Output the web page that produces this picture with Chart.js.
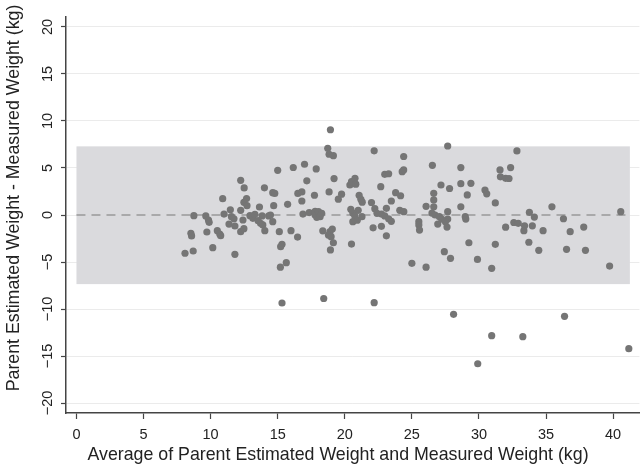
<!DOCTYPE html>
<html>
<head>
<meta charset="utf-8">
<script src="https://cdn.jsdelivr.net/npm/chart.js@4.4.1/dist/chart.umd.min.js"></script>
<style>
  html, body { margin: 0; padding: 0; background: #fff; }
  #wrap { width: 643px; height: 465px; }
</style>
</head>
<body>
<div id="wrap"><canvas id="chart" width="643" height="465"></canvas></div>
<script>
// Average of parent estimate and measured weight (kg)
const avgWeight = [
  8.09, 8.7, 8.53, 8.58, 8.75, 9.64, 9.84, 9.89, 9.72, 10.16,
  10.5, 10.68, 10.75, 10.9, 11.0, 11.47, 11.55, 11.74, 11.37, 11.81,
  11.81, 12.24, 12.5, 12.68, 12.48, 12.71, 12.24, 12.41, 12.24, 12.48,
  12.93, 13.15, 13.3, 13.64, 13.72, 13.89, 13.84, 14.01, 14.04, 13.54,
  14.33, 14.46, 14.63, 14.78, 14.7, 14.63, 15.0, 15.12, 15.32, 15.22,
  15.2, 15.64, 15.32, 15.74, 15.99, 16.16, 16.5, 16.8, 16.8, 16.48,
  16.88, 17.0, 17.17, 17.35, 17.74, 17.79, 17.79, 17.87, 17.91, 18.04,
  18.16, 18.28, 18.36, 18.43, 18.73, 18.83, 18.83, 18.9, 18.78, 18.98,
  18.93, 18.93, 19.15, 19.2, 19.07, 19.15, 19.52, 19.76, 20.38, 20.5,
  20.76, 20.82, 20.45, 21.0, 20.6, 20.75, 21.28, 20.6, 20.93, 20.5,
  21.07, 21.2, 21.3, 21.99, 22.19, 22.24, 22.4, 22.73, 22.68, 22.98,
  22.11, 22.73, 22.19, 22.98, 23.27, 23.1, 23.27, 23.47, 23.47, 23.1,
  23.79, 24.16, 24.28, 24.39, 24.39, 24.1, 24.4, 25.0, 25.52, 25.52,
  25.57, 26.06, 26.06, 26.53, 26.63, 26.63, 26.63, 26.5, 26.73, 26.93,
  27.05, 27.17, 27.22, 27.67, 27.67, 27.5, 27.62, 27.81, 27.67, 27.42,
  27.88, 28.11, 28.65, 28.65, 28.65, 28.98, 29.02, 29.4, 29.13, 29.25,
  29.89, 29.91, 30.45, 30.58, 30.95, 30.95, 31.22, 31.22, 31.57, 31.6,
  31.99, 31.99, 32.24, 32.36, 32.83, 32.6, 32.93, 33.27, 33.4, 33.35,
  33.72, 33.76, 33.98, 34.13, 34.46, 34.78, 35.44, 36.3, 36.38, 36.53,
  36.8, 37.81, 37.94, 39.74, 40.57, 41.17
];
// Parent estimate minus measured weight (kg)
const weightDiff = [
  -4.07, -3.83, -1.95, -2.23, -0.07, -0.1, -0.53, -0.78, -1.81, -3.48,
  -1.67, -2.02, -2.2, 1.74, 0.1, 0.56, -0.18, -0.4, -0.96, -1.17,
  -4.18, 3.69, 2.88, 1.75, 1.35, 0.99, 0.5, -0.53, -1.77, -1.45,
  -0.07, -0.35, 0.07, 0.85, -0.89, -1.06, -0.1, 2.89, -1.67, -0.6,
  -0.1, 0.0, 2.37, 2.3, 0.99, -0.71, 4.75, -1.77, -3.12, -3.37,
  -5.55, -5.07, -9.36, 1.14, -1.67, 5.05, 2.3, 2.45, 1.49, -2.35,
  0.1, 5.4, 3.63, 0.26, 2.1, 0.4, 0.0, 4.9, -0.25, 0.35,
  -0.18, 0.18, -1.68, -8.88, 7.09, 6.46, 2.45, -1.77, -2.13, -2.31,
  9.07, -3.72, 6.31, 3.87, -1.5, -2.95, 1.68, 2.22, 3.19, 3.54,
  3.9, 3.28, 0.6, 0.5, 0.2, -0.1, -0.18, -0.71, -0.56, -3.09,
  2.1, 1.67, 1.36, 1.33, 6.83, 0.67, 0.18, 0.1, 3.01, 4.33,
  -1.36, -1.2, -9.33, -0.1, 4.39, 0.71, -0.4, -0.67, 1.49, -2.22,
  2.37, 2.05, 4.61, 4.79, 6.22, 0.5, 0.35, -5.14, -0.71, -1.06,
  -1.6, 0.92, -5.55, 5.28, 2.31, 1.6, 0.88, 0.2, 0.0, -0.96,
  -0.18, 3.19, -0.43, 0.35, -0.43, -0.71, -1.28, 2.82, 7.34, -3.9,
  -4.61, -10.56, 5.04, 3.33, 0.87, -0.18, -0.43, 3.37, 2.13, -2.95,
  -4.73, -15.82, 2.66, 2.25, -5.67, -12.84, 1.28, -3.12, 4.79, 4.06,
  3.9, -1.3, 3.88, 5.04, 6.82, -0.8, -0.89, -12.94, -1.15, -1.67,
  -2.9, 0.28, -1.15, -0.22, -3.76, -1.67, 0.87, -0.4, -10.78, -3.65,
  -1.77, -1.28, -3.76, -5.43, 0.35, -14.22
];

// Mean difference and 95% limits of agreement
const meanDiff = 0;
const upperLimit = 7.3;
const lowerLimit = -7.35;
const bandFromX = 0;
const bandToX = 41.25;

const xTicks = [0, 5, 10, 15, 20, 25, 30, 35, 40];
const yTicks = [-20, -15, -10, -5, 0, 5, 10, 15, 20];

const FONT = "'Liberation Sans', Arial, sans-serif";
const INK = "#222";

const points = avgWeight.map((x, i) => ({ x: x, y: weightDiff[i] }));

// grey agreement band + dashed mean line, behind the points
const bandPlugin = {
  id: "band",
  beforeDatasetsDraw(chart) {
    const { ctx, scales } = chart;
    const x0 = scales.x.getPixelForValue(bandFromX);
    const x1 = scales.x.getPixelForValue(bandToX);
    const yTop = scales.y.getPixelForValue(upperLimit);
    const yBot = scales.y.getPixelForValue(lowerLimit);
    const yMean = scales.y.getPixelForValue(meanDiff);
    ctx.save();
    ctx.fillStyle = "#dadadd";
    ctx.fillRect(x0, yTop, x1 - x0, yBot - yTop);
    ctx.strokeStyle = "#999";
    ctx.lineWidth = 1.5;
    ctx.setLineDash([9, 6]);
    ctx.beginPath();
    ctx.moveTo(x0, yMean);
    ctx.lineTo(x1, yMean);
    ctx.stroke();
    ctx.restore();
  },
};

// rotated y tick labels and both axis titles
const textPlugin = {
  id: "axisText",
  afterDraw(chart) {
    const { ctx, scales } = chart;
    ctx.save();
    ctx.fillStyle = INK;
    ctx.textAlign = "center";
    ctx.textBaseline = "middle";
    ctx.font = "14.5px " + FONT;
    yTicks.forEach((v) => {
      const y = scales.y.getPixelForValue(v);
      ctx.save();
      ctx.translate(48, y);
      ctx.rotate(-Math.PI / 2);
      ctx.fillText(v < 0 ? "\u2212" + Math.abs(v) : String(v), 0, 0);
      ctx.restore();
    });
    ctx.font = "17.8px " + FONT;
    ctx.fillText("Average of Parent Estimated Weight and Measured Weight (kg)", 338, 455);
    ctx.save();
    ctx.translate(14, 198);
    ctx.rotate(-Math.PI / 2);
    ctx.fillText("Parent Estimated Weight - Measured Weight (kg)", 0, 0);
    ctx.restore();
    ctx.restore();
  },
};

new Chart(document.getElementById("chart"), {
  type: "scatter",
  data: {
    datasets: [
      {
        data: points,
        backgroundColor: "#757575",
        borderWidth: 0,
        pointRadius: 3.6,
        pointHoverRadius: 3.6,
      },
    ],
  },
  options: {
    responsive: false,
    animation: false,
    layout: { padding: { top: 17, right: 0, bottom: 0, left: 0 } },
    plugins: { legend: { display: false }, tooltip: { enabled: false } },
    scales: {
      x: {
        type: "linear",
        min: -0.78,
        max: 41.96,
        afterBuildTicks: (s) => { s.ticks = xTicks.map((v) => ({ value: v })); },
        afterFit: (s) => { s.height = 52; },
        grid: { drawOnChartArea: false, tickLength: 6, tickColor: "#444", tickWidth: 1.2 },
        border: { color: "#444", width: 1.5 },
        ticks: { color: INK, font: { family: FONT, size: 14.5 }, padding: 7, maxRotation: 0 },
      },
      y: {
        type: "linear",
        min: -21.06,
        max: 21.06,
        afterBuildTicks: (s) => { s.ticks = yTicks.map((v) => ({ value: v })); },
        afterFit: (s) => { s.width = 66; },
        grid: { color: "#ebebeb", lineWidth: 1, tickLength: 5, tickColor: "#444", tickWidth: 1.2 },
        border: { color: "#444", width: 1.5 },
        ticks: { display: false },
      },
    },
  },
  plugins: [bandPlugin, textPlugin],
});
</script>
</body>
</html>
